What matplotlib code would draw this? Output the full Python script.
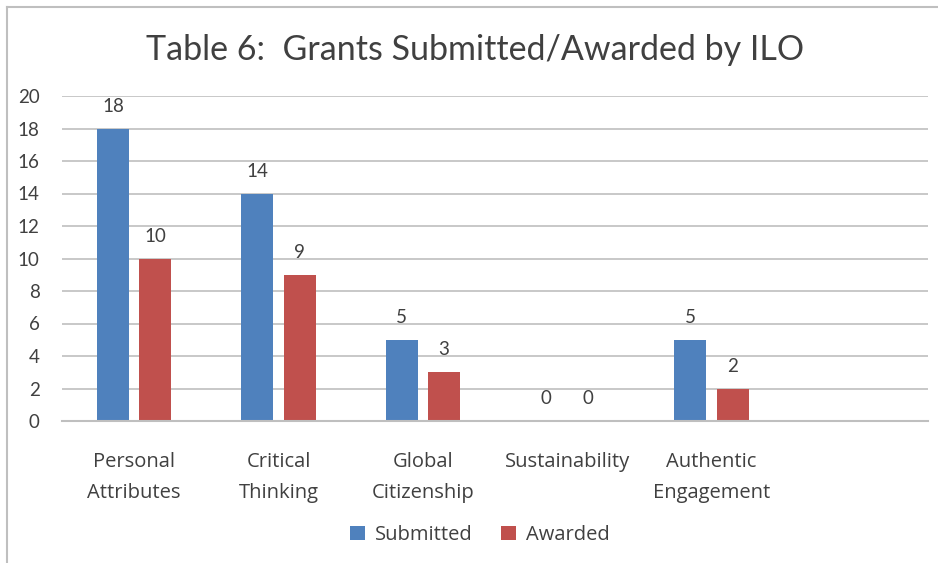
import numpy as np
import matplotlib
matplotlib.use("Agg")
from matplotlib import pyplot as plt
from matplotlib.lines import Line2D

# data
categories = ["Personal\nAttributes", "Critical\nThinking", "Global\nCitizenship",
              "Sustainability", "Authentic\nEngagement", ""]
submitted = [18, 14, 5, 0, 5]
awarded = [10, 9, 3, 0, 2]

BLUE = "#4F81BD"
RED = "#C0504D"
TEXT = "#404040"
GRID = "#BFBFBF"

plt.rcParams["font.family"] = ["Lato", "DejaVu Sans"]

fig = plt.figure(figsize=(9.38, 5.63), dpi=100)
ax = fig.add_axes([62 / 938, 1 - 421 / 563, 866 / 938, 325 / 563])

x = np.arange(len(submitted))
w = 0.222
off = 0.146
b1 = ax.bar(x - off, submitted, w, color=BLUE, label="Submitted")
b2 = ax.bar(x + off, awarded, w, color=RED, label="Awarded")

for bars, vals in ((b1, submitted), (b2, awarded)):
    for rect, v in zip(bars, vals):
        ax.annotate(str(v), (rect.get_x() + rect.get_width() / 2, v),
                    xytext=(0, 10), textcoords="offset points",
                    ha="center", va="bottom", fontsize=13.5, color=TEXT)

ax.set_xlim(-0.5, len(categories) - 0.5)
ax.set_ylim(0, 20)
ax.set_yticks(range(0, 21, 2))
ax.set_xticks(range(len(categories)))
ax.set_xticklabels(categories, fontsize=14.5, color=TEXT, linespacing=1.75,
                   family=["Open Sans", "DejaVu Sans"])
ax.tick_params(axis="x", length=0, pad=22)
ax.tick_params(axis="y", length=0, pad=16, labelsize=13.5, labelcolor=TEXT)
ax.grid(axis="y", color=GRID, linewidth=1.2)
ax.set_axisbelow(True)
for s in ("top", "right", "left"):
    ax.spines[s].set_visible(False)
ax.spines["bottom"].set_color(GRID)
ax.spines["bottom"].set_linewidth(1.5)

fig.text(475 / 938, 1 - 50 / 563, "Table 6:  Grants Submitted/Awarded by ILO",
         ha="center", va="center", fontsize=24.5, color=TEXT)

leg = fig.legend(loc="center", bbox_to_anchor=(480 / 938, 1 - 535 / 563), ncol=2,
                 frameon=False, handlelength=0.75, handleheight=0.75, handletextpad=0.5,
                 columnspacing=1.4, prop={"family": ["Open Sans", "DejaVu Sans"], "size": 14.5})
for t in leg.get_texts():
    t.set_color(TEXT)

# outer chart border (top and left edges visible in the crop)
fig.add_artist(Line2D([7 / 938, 7 / 938], [0, 1 - 7 / 563], transform=fig.transFigure,
                      color="#BFBFBF", linewidth=1.5))
fig.add_artist(Line2D([7 / 938, 1], [1 - 7 / 563, 1 - 7 / 563], transform=fig.transFigure,
                      color="#BFBFBF", linewidth=1.5))

fig.savefig("out.png", dpi=100)
